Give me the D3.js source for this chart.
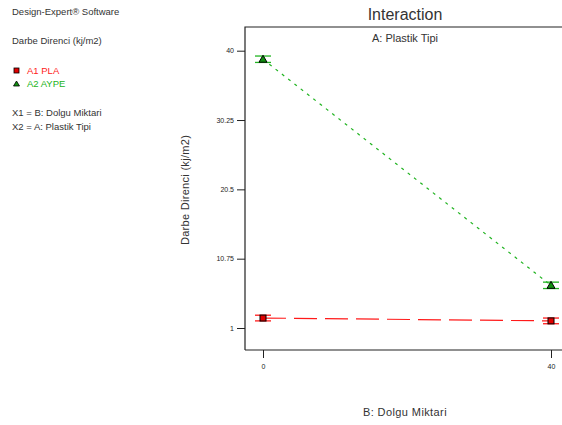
<!DOCTYPE html>
<html><head><meta charset="utf-8">
<script src="https://cdn.jsdelivr.net/npm/d3@7"></script>
<style>body{margin:0;background:#fff}svg{display:block;font-family:"Liberation Sans",Arial,sans-serif}</style>
</head><body><svg id="c" width="562" height="425"></svg>
<script>
const xLevels = [0, 40];
const yTicks = [1, 10.75, 20.5, 30.25, 40];
const seriesNames = ["A1 PLA", "A2 AYPE"];
const plaValues = [2.4, 2.0];
const aypeValues = [38.8, 7.0];
const plaErr = [0.4, 0.4];
const aypeErr = [0.45, 0.45];
const colors = ["#ff1a1a", "#22b422"];

(function(){
const svg = d3.select("#c");
const pLeft = 245, pTop = 27, pBottom = 350, pRight = 620;
const x = d3.scaleLinear().domain([0, 40]).range([263, 551]);
const y = d3.scaleLinear().domain([1, 40]).range([328, 50.7]);

svg.append("path").attr("d", `M${pLeft},${pBottom}V${pTop}H${pRight}`).attr("fill","none").attr("stroke","#222").attr("stroke-width",1.2);
svg.append("path").attr("d", `M${pLeft},${pBottom}H${pRight}`).attr("fill","none").attr("stroke","#222").attr("stroke-width",1.2);

const yAxis = d3.axisLeft(y).tickValues(yTicks).tickSize(8).tickFormat(d=>String(d));
const gy = svg.append("g").attr("transform",`translate(${pLeft},0)`).call(yAxis);
gy.select(".domain").remove();
gy.selectAll("line").attr("stroke","#222");
gy.selectAll("text").attr("font-size",7).attr("fill","#222").attr("x",-11);

const xAxis = d3.axisBottom(x).tickValues(xLevels).tickSize(8).tickFormat(d=>String(d));
const gx = svg.append("g").attr("transform",`translate(0,${pBottom})`).call(xAxis);
gx.select(".domain").remove();
gx.selectAll("line").attr("stroke","#222");
gx.selectAll("text").attr("font-size",7).attr("fill","#222").attr("y",14);

const line = d3.line().x((d,i)=>x(xLevels[i])).y(d=>y(d));
svg.append("path").datum(plaValues).attr("d",line).attr("fill","none").attr("stroke",colors[0]).attr("stroke-width",1.2).attr("stroke-dasharray","23,8");
svg.append("path").datum(aypeValues).attr("d",line).attr("fill","none").attr("stroke",colors[1]).attr("stroke-width",1.2).attr("stroke-dasharray","3,5");

function errBars(vals, errs, col){
  vals.forEach((v,i)=>{
    const cx = x(xLevels[i]);
    [v-errs[i], v+errs[i]].forEach(e=>{
      svg.append("line").attr("x1",cx-8).attr("x2",cx+8).attr("y1",y(e)).attr("y2",y(e)).attr("stroke",col).attr("stroke-width",1.3);
    });
  });
}
errBars(plaValues, plaErr, colors[0]);
errBars(aypeValues, aypeErr, colors[1]);

plaValues.forEach((v,i)=>{
  svg.append("rect").attr("x",x(xLevels[i])-3).attr("y",y(v)-3).attr("width",6).attr("height",6).attr("fill","#e00000").attr("stroke","#000").attr("stroke-width",1);
});
aypeValues.forEach((v,i)=>{
  const cx=x(xLevels[i]), cy=y(v);
  svg.append("path").attr("d",`M${cx},${cy-4}L${cx+4},${cy+3}L${cx-4},${cy+3}Z`).attr("fill","#109010").attr("stroke","#000").attr("stroke-width",1);
});

svg.append("text").attr("x",405).attr("y",20).attr("text-anchor","middle").attr("font-size",16).attr("fill","#333").text("Interaction");
svg.append("text").attr("x",405).attr("y",42).attr("text-anchor","middle").attr("font-size",11).attr("fill","#333").text("A: Plastik Tipi");
svg.append("text").attr("x",405).attr("y",416).attr("text-anchor","middle").attr("font-size",11).attr("fill","#333").attr("letter-spacing",0.4).text("B: Dolgu Miktari");
svg.append("text").attr("transform","translate(189,190) rotate(-90)").attr("text-anchor","middle").attr("font-size",11).attr("fill","#333").attr("letter-spacing",0.3).text("Darbe Direnci (kj/m2)");

const side = [["Design-Expert® Software",15,"#333"],["Darbe Direnci (kj/m2)",44,"#333"],["X1 = B: Dolgu Miktari",116,"#333"],["X2 = A: Plastik Tipi",130,"#333"]];
side.forEach(s=>svg.append("text").attr("x",12).attr("y",s[1]).attr("font-size",9.5).attr("fill",s[2]).text(s[0]));
svg.append("text").attr("x",27).attr("y",74).attr("font-size",9.5).attr("fill",colors[0]).text(seriesNames[0]);
svg.append("text").attr("x",27).attr("y",87).attr("font-size",9.5).attr("fill",colors[1]).text(seriesNames[1]);
svg.append("rect").attr("x",14).attr("y",68).attr("width",5).attr("height",5).attr("fill","#e00000").attr("stroke","#000").attr("stroke-width",0.8);
svg.append("path").attr("d","M16.5,81L19.5,86L13.5,86Z").attr("fill","#109010").attr("stroke","#000").attr("stroke-width",0.8);
})();
</script></body></html>
